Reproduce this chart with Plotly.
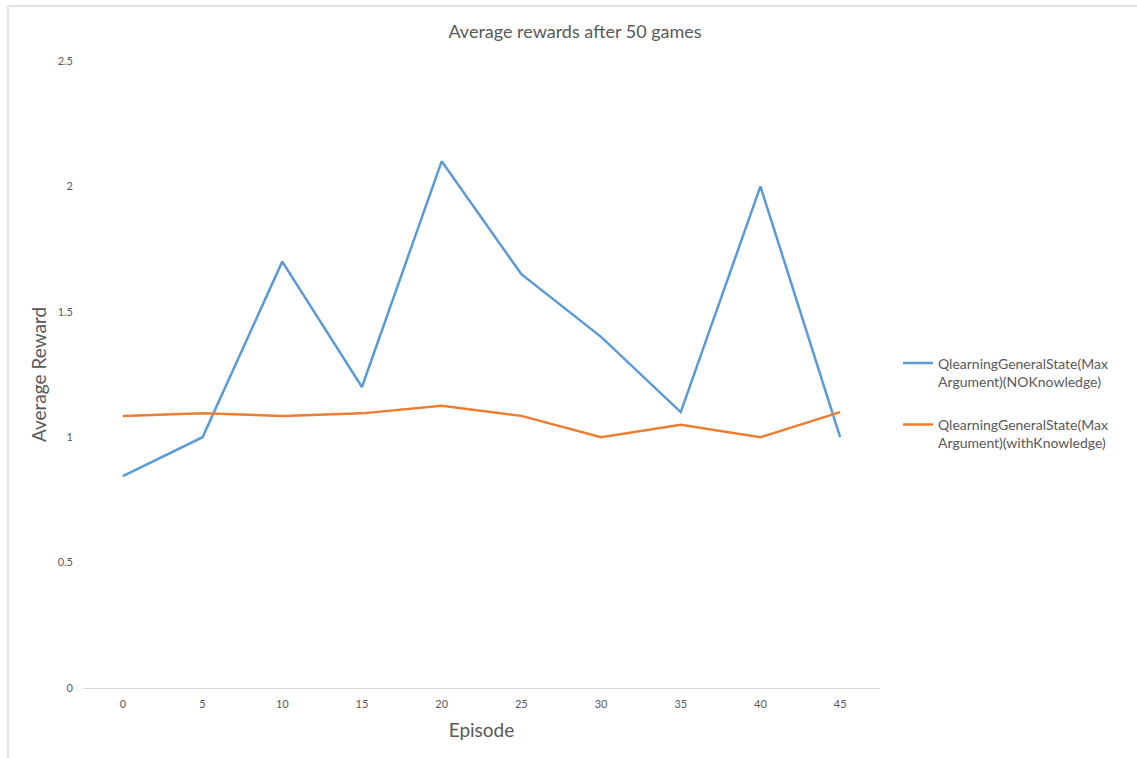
import plotly.graph_objects as go

# Episodes sampled every 5 games
episodes = [0, 5, 10, 15, 20, 25, 30, 35, 40, 45]

# Average reward per episode for each agent configuration
no_knowledge = [0.845, 1.0, 1.7, 1.2, 2.1, 1.65, 1.4, 1.1, 2.0, 1.0]
with_knowledge = [1.085, 1.095, 1.085, 1.095, 1.125, 1.085, 1.0, 1.05, 1.0, 1.1]

series_names = [
    "QlearningGeneralState(Max<br>Argument)(NOKnowledge)",
    "QlearningGeneralState(Max<br>Argument)(withKnowledge)",
]
series_colors = ["#5B9BD5", "#ED7D31"]

y_ticks = [0, 0.5, 1, 1.5, 2, 2.5]
y_tick_text = ["0", "0.5", "1", "1.5", "2", "2.5"]

W, H = 1137, 758
L, R, T, B = 83, 257, 61, 70
FONT = "Lato, 'Open Sans', sans-serif"
GREY = "#595959"

fig = go.Figure()
for i, (name, vals, col) in enumerate(zip(series_names, [no_knowledge, with_knowledge], series_colors)):
    fig.add_trace(go.Scatter(
        x=episodes, y=vals, name=name, mode="lines", legendgroup=f"g{i}",
        line=dict(color=col, width=2.5),
    ))

plot_w = W - L - R
plot_h = H - T - B


def px_x(p):
    return (p - L) / plot_w


def px_y(p):
    return (H - B - p) / plot_h


# thin frame along the top and left edges of the chart
frame = dict(color="#d9d9d9", width=1.5)
fig.add_shape(type="line", xref="paper", yref="paper",
              x0=px_x(8), x1=px_x(W + 5), y0=px_y(6), y1=px_y(6), line=frame)
fig.add_shape(type="line", xref="paper", yref="paper",
              x0=px_x(8), x1=px_x(8), y0=px_y(6), y1=px_y(H + 5), line=frame)

fig.update_layout(
    width=W, height=H,
    margin=dict(l=L, r=R, t=T, b=B),
    paper_bgcolor="white", plot_bgcolor="white",
    font=dict(family=FONT, color=GREY),
    title=dict(text="Average rewards after 50 games", x=575 / W, xref="container",
               xanchor="center", y=1 - 32 / H, yref="container", yanchor="middle",
               font=dict(size=18, color=GREY)),
    xaxis=dict(range=[-2.5, 47.5], tickvals=episodes, ticktext=[str(e) for e in episodes],
               showgrid=False, zeroline=False, showline=True, linecolor="#d9d9d9",
               linewidth=1, ticks="", tickfont=dict(size=11, color=GREY),
               ticklabelstandoff=6,
               title=dict(text="Episode", font=dict(size=19, color=GREY), standoff=14)),
    yaxis=dict(range=[0, 2.5], tickvals=y_ticks, ticktext=y_tick_text,
               showgrid=False, zeroline=False, showline=False, ticks="",
               tickfont=dict(size=11, color=GREY), ticklabelstandoff=9,
               title=dict(text="Average Reward", font=dict(size=19, color=GREY), standoff=5)),
    legend=dict(x=px_x(898), y=px_y(403), xanchor="left", yanchor="middle",
                font=dict(size=14, color=GREY), tracegroupgap=22, valign="top",
                bgcolor="rgba(0,0,0,0)", itemwidth=30),
)

fig.write_html("out.html")
